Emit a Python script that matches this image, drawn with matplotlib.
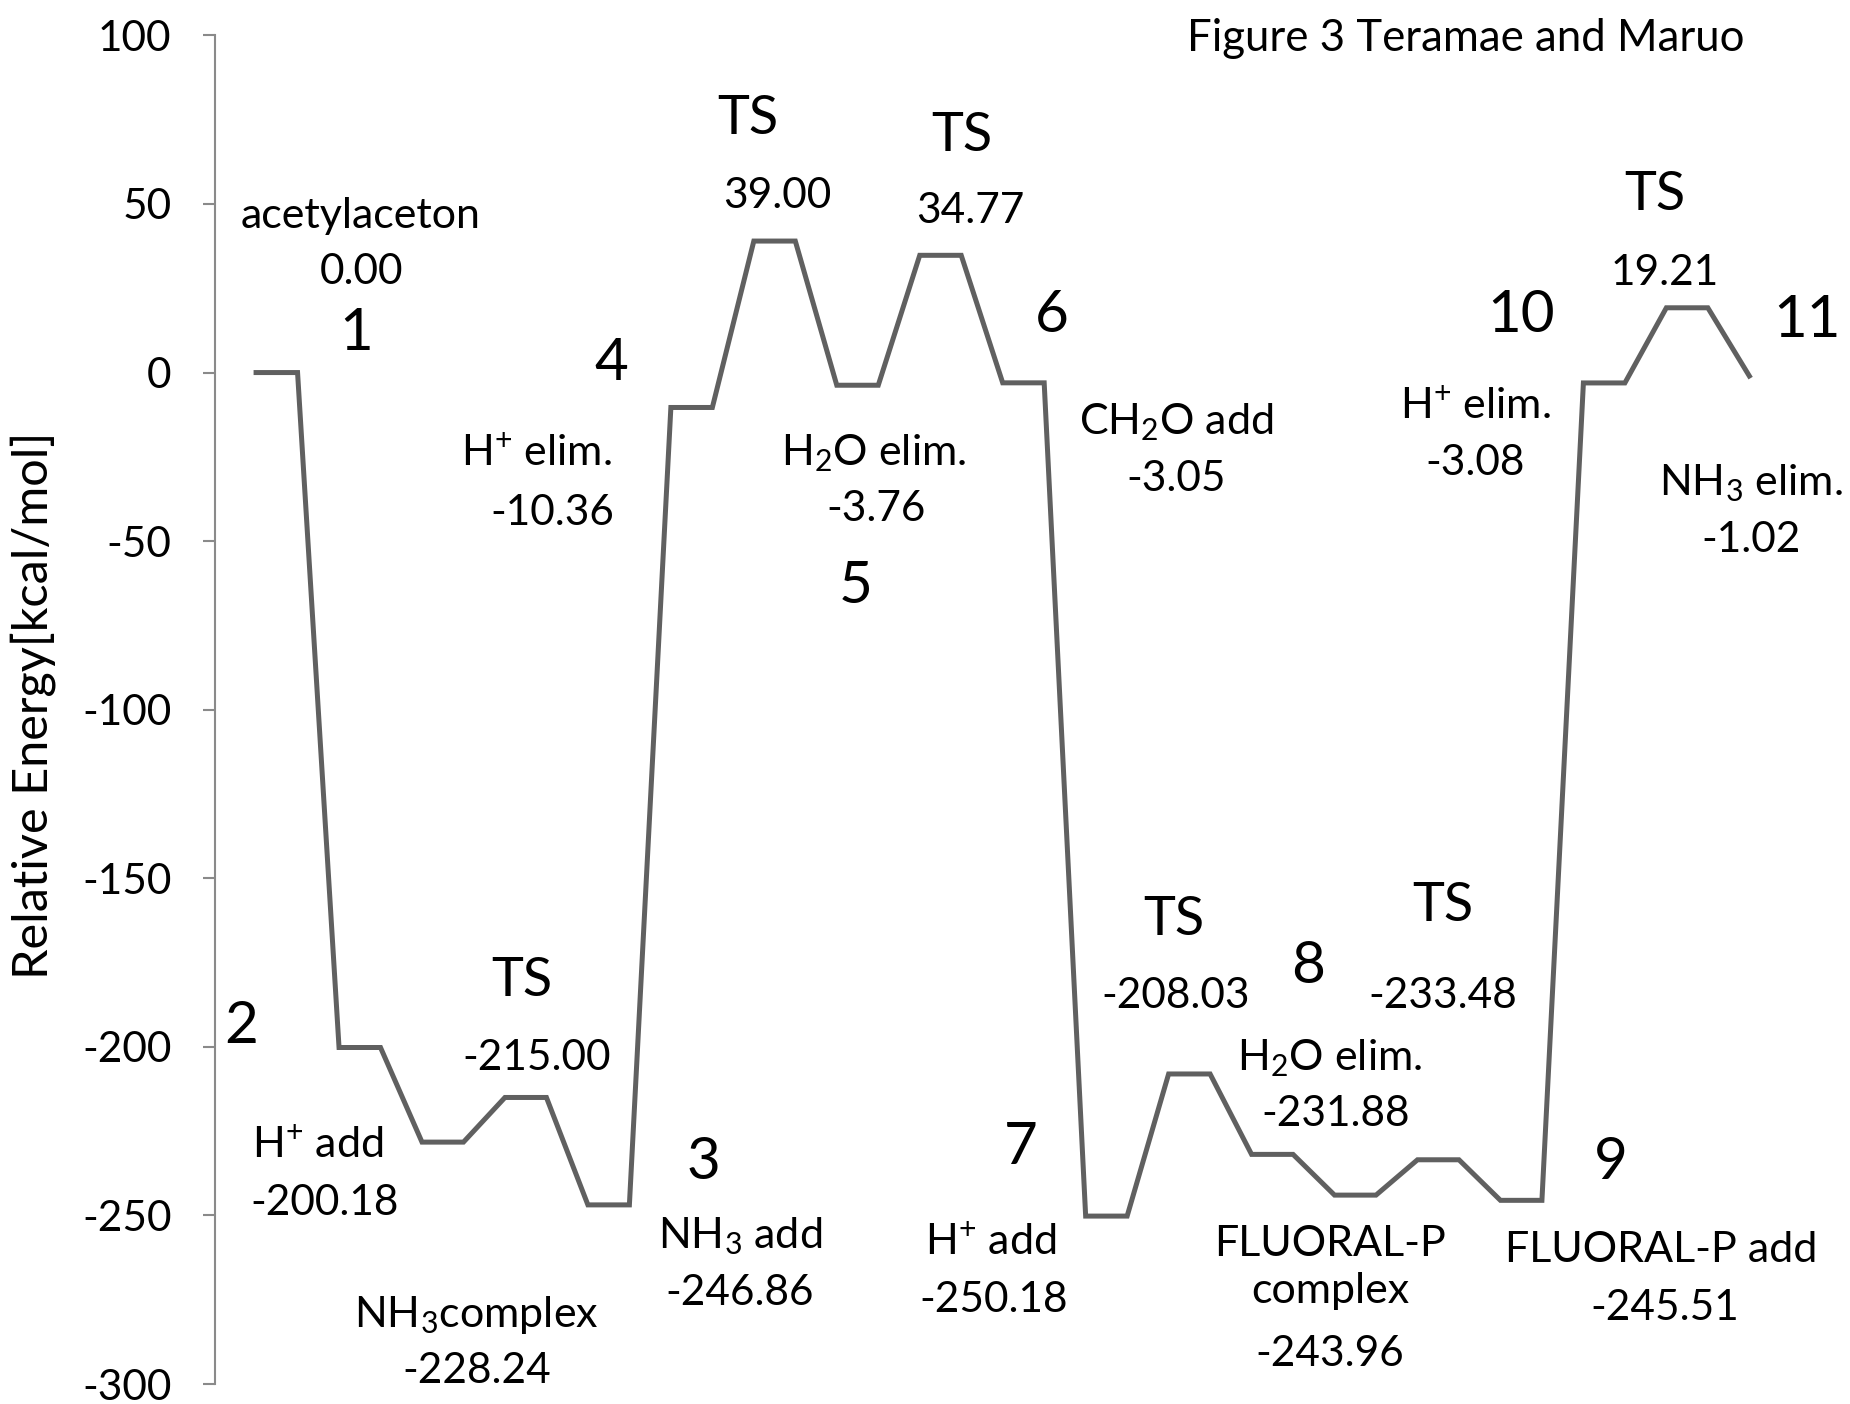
import matplotlib
matplotlib.use("Agg")
import matplotlib.pyplot as plt

# energy of each stage along the reaction path [kcal/mol]
levels = [0.00, -200.18, -228.24, -215.00, -246.86, -10.36, 39.00, -3.76,
          34.77, -3.05, -250.18, -208.03, -231.88, -243.96, -233.48,
          -245.51, -3.08, 19.21, -1.02]
names = ["acetylaceton", "H$^{+}$ add", "NH$_{3}$complex", "TS", "NH$_{3}$ add",
         "H$^{+}$ elim.", "TS", "H$_{2}$O elim.", "TS", "CH$_{2}$O add",
         "H$^{+}$ add", "TS", "H$_{2}$O elim.", "FLUORAL-P\ncomplex", "TS",
         "FLUORAL-P add", "H$^{+}$ elim.", "TS", "NH$_{3}$ elim."]
step_numbers = ["1", "2", "3", "4", "5", "6", "7", "8", "9", "10", "11"]
yticks = [100, 50, 0, -50, -100, -150, -200, -250, -300]

# where the text boxes sit (category index, energy)
name_pos = [(2.53, 46.5), (1.48, -229.1), (5.32, -279.4), (6.40, -180.4),
            (11.66, -256.0), (6.77, -24.1), (11.86, 75.2), (14.88, -23.8),
            (17.01, 70.3), (22.19, -14.7), (17.72, -258.1), (22.13, -162.3),
            (25.89, -203.5), (25.89, -265.4), (28.62, -158.1), (33.88, -260.2),
            (29.39, -10.1), (33.71, 52.8), (36.05, -32.9)]
value_pos = [(2.53, 29.7), (1.65, -246.2), (5.32, -296.2), (6.77, -203.2),
             (11.66, -273.1), (7.14, -41.6), (12.57, 52.5), (14.94, -40.6),
             (17.21, 47.9), (22.19, -31.5), (17.78, -275.2), (22.16, -185.0),
             (26.03, -220.0), (25.89, -291.0), (28.62, -185.0), (33.97, -277.3),
             (29.39, -26.9), (33.97, 29.4), (36.05, -49.7)]
step_pos = [(2.42, 11.5), (-0.37, -194.1), (10.78, -234.3), (8.56, 2.8),
            (14.45, -63.6), (19.18, 16.8), (18.44, -229.8), (25.35, -176.3),
            (32.66, -234.3), (30.5, 16.8), (37.38, 15.4)]

plt.rcParams["font.family"] = ["Lato", "DejaVu Sans"]
plt.rcParams["mathtext.fontset"] = "custom"
plt.rcParams["mathtext.rm"] = "Lato"
plt.rcParams["mathtext.it"] = "Lato"
plt.rcParams["mathtext.default"] = "rm"
plt.rcParams["axes.unicode_minus"] = False

# every stage is a short flat step (two points), the last one is a single point
ys = []
for v in levels[:-1]:
    ys += [v, v]
ys.append(levels[-1])
xs = list(range(len(ys)))

fig = plt.figure(figsize=(18.5, 14.04), dpi=100)
ax = fig.add_axes([0.116, 0.0142, 0.852, 0.9606])
ax.plot(xs, ys, color="#606060", lw=3.6, solid_joinstyle="miter")

ax.set_xlim(-1, 37)
ax.set_ylim(-300, 100)
ax.set_yticks(yticks)
ax.set_xticks([])
for s in ["top", "right", "bottom"]:
    ax.spines[s].set_visible(False)
ax.spines["left"].set_color("#8a8a8a")
ax.spines["left"].set_linewidth(1.5)
ax.tick_params(axis="y", direction="out", length=9, width=1.5, color="#8a8a8a",
               labelsize=30.5, pad=22)

fig.text(33 / 1850, 1 - 705 / 1404, "Relative Energy[kcal/mol]", rotation=90,
         ha="center", va="center", fontsize=35)

for i, v in enumerate(levels):
    big = names[i] == "TS"
    ax.text(*name_pos[i], names[i], ha="center", va="center",
            fontsize=39 if big else 31, linespacing=1.3)
    ax.text(*value_pos[i], f"{v:.2f}", ha="center", va="center", fontsize=30.5)

for lab, (x, y) in zip(step_numbers, step_pos):
    ax.text(x, y, lab, ha="center", va="center", fontsize=42)

ax.text(29.16, 99.0, "Figure 3 Teramae and Maruo", ha="center", va="center",
        fontsize=31.5)

fig.savefig("out.png", dpi=100)
